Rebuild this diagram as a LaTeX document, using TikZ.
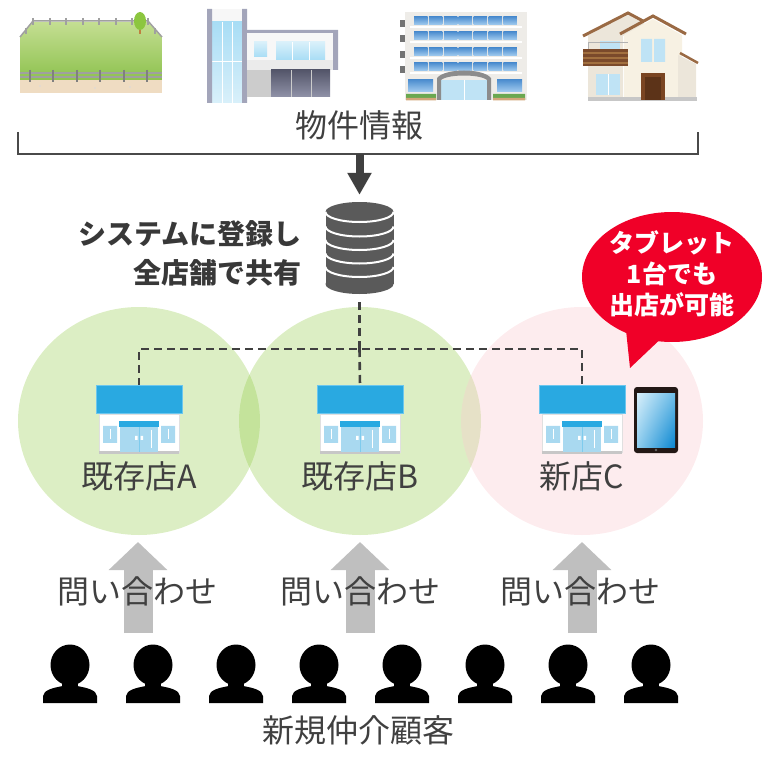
\documentclass[tikz,border=0pt]{standalone}
\usepackage{fontspec}
\setmainfont{Noto Sans CJK JP}
\usetikzlibrary{arrows.meta,shapes.geometric,shadings}

\definecolor{txtgray}{HTML}{404040}
\definecolor{boldgray}{HTML}{383838}
\definecolor{bracketgray}{HTML}{4A4A4A}
\definecolor{darkarrow}{HTML}{404040}
\definecolor{dbgray}{HTML}{5A5A5A}
\definecolor{lightarrow}{HTML}{BFBFBF}
\definecolor{zonegreen}{RGB}{140,200,60}
\definecolor{zonepink}{RGB}{250,200,205}
\definecolor{bubblered}{RGB}{240,0,40}
\definecolor{roofblue}{HTML}{29A9E1}
\definecolor{roofedge}{HTML}{6CC6EE}
\definecolor{paleblue}{HTML}{A9D9F0}
\definecolor{grasstop}{HTML}{C4DE92}
\definecolor{grassbot}{HTML}{8EC24F}
\definecolor{sand}{HTML}{EFDCC2}
\definecolor{fencegray}{HTML}{A0A0A0}
\definecolor{treegreen}{HTML}{8CC63F}
\definecolor{framegray}{HTML}{A3A5BA}
\definecolor{glasstop}{HTML}{A8DDF5}
\definecolor{glassbot}{HTML}{D9F0FA}
\definecolor{slatetop}{HTML}{54566A}
\definecolor{slatebot}{HTML}{9092A8}
\definecolor{aptwall}{HTML}{EEECE8}
\definecolor{aptblue}{HTML}{4F8FD0}
\definecolor{aptblue2}{HTML}{A4CDF0}
\definecolor{plantgreen}{HTML}{6AA84F}
\definecolor{housewall}{HTML}{F7F1E3}
\definecolor{housewall2}{HTML}{ECE6DA}
\definecolor{roofbrown}{HTML}{9A6A44}
\definecolor{wooddark}{HTML}{7B4A2B}
\definecolor{woodlight}{HTML}{A2703F}
\definecolor{doorbrown}{HTML}{7A4522}
\definecolor{doordark}{HTML}{5C3318}
\definecolor{houseglass}{HTML}{BFE3F5}
\definecolor{tabletframe}{HTML}{231815}
\definecolor{screenA}{HTML}{D8EFFA}
\definecolor{screenB}{HTML}{6EBDE8}
\definecolor{screenC}{HTML}{8FCDEE}
\definecolor{screenD}{HTML}{0A86D0}

\tikzset{
  lbl/.style={inner sep=0pt, text=txtgray, font=\fontsize{32}{36}\selectfont},
  boldlbl/.style={inner sep=0pt, text=boldgray, font=\bfseries\fontsize{28}{34}\selectfont},
  bubbletext/.style={inner sep=0pt, text=white, align=center, font=\bfseries\fontsize{25}{31}\selectfont},
  greenzone/.style={ellipse, inner sep=0pt, minimum width=242pt, minimum height=228pt,
    fill=zonegreen, fill opacity=0.3},
  pinkzone/.style={ellipse, inner sep=0pt, minimum width=242pt, minimum height=228pt,
    fill=zonepink, fill opacity=0.35},
  bracketline/.style={draw=bracketgray, line width=2.5pt},
  linkline/.style={draw=darkarrow, line width=2.6pt, dash pattern=on 8pt off 5pt},
  feedarrow/.style={draw=darkarrow, line width=8pt, -{Triangle[width=23pt,length=22pt]}},
  askarrow/.style={draw=lightarrow, line width=29pt, -{Triangle[width=57pt,length=28pt]}},
  shopbox/.style={inner sep=0pt, minimum width=86pt, minimum height=68pt},
  dbbox/.style={inner sep=0pt, minimum width=69pt, minimum height=92pt},
  % shop icon, origin at the top centre of the roof
  shop/.pic={
    \fill[white, draw=black!12, line width=0.6pt] (-40,28) rectangle (40,66);
    \fill[black!22] (-40,65) rectangle (40,68.5);
    \fill[roofblue, draw=roofedge, line width=0.8pt] (-43,0) rectangle (43,28);
    \fill[paleblue] (-19,35) rectangle (19,66);
    \fill[roofblue] (-20,35) rectangle (20,41);
    \draw[roofblue!60, line width=0.8pt] (0,41) -- (0,66);
    \fill[white] (-4,50) rectangle (-1.5,54) (1.5,50) rectangle (4,54);
    \fill[paleblue] (-36,40) rectangle (-22,57) (22,40) rectangle (36,57);
    \draw[white, line width=1pt] (-29,43) -- (-29,53) (29,43) -- (29,53) (12,44) -- (12,62);
  },
  % customer silhouette, origin at the bottom centre
  person/.pic={
    \fill[black] (0,-38) ellipse [x radius=19.5, y radius=20.5];
    \fill[black] (-8,-24) rectangle (8,-14);
    \fill[black] (-27,0) -- (-27,-7) .. controls (-26,-13) and (-18,-15) .. (-7,-17)
      -- (7,-17) .. controls (18,-15) and (26,-13) .. (27,-7) -- (27,0) -- cycle;
  },
}

\begin{document}
\begin{tikzpicture}[x=1pt,y=-1pt]
\useasboundingbox (0,0) rectangle (782,757);

% ---------- property illustrations ----------
% plot of land
\shade[top color=grasstop, bottom color=grassbot]
  (33,22) -- (148,22) -- (162,37) -- (162,80) -- (20,80) -- (20,37) -- cycle;
\fill[sand] (20,80) rectangle (162,93);
\fill[black!15] (40,86) circle (0.8) (95,88) circle (0.8) (130,87) circle (0.8);
\draw[fencegray, line width=1.5pt] (33,21) -- (148,21) (33,21) -- (20,37) (148,21) -- (162,37);
\foreach \px in {33,50,66,83,99,116,132,148} \draw[fencegray, line width=1.5pt] (\px,18) -- (\px,25);
\draw[fencegray, line width=1.5pt] (26,28) -- (26,34) (155,28) -- (155,34);
\draw[fencegray, line width=1.5pt] (20,73) -- (162,73) (20,77) -- (162,77);
\foreach \px in {30,53,77,100,124,147} \draw[fencegray!80!black, line width=2pt] (\px,70) -- (\px,82);
\draw[brown, line width=1.5pt] (140,27) -- (140,34);
\fill[treegreen] (140,21) ellipse [x radius=6, y radius=9];

% modern building
\fill[black!3] (212,9) rectangle (242,22);
\shade[top color=glasstop, bottom color=glassbot] (212,22) rectangle (242,103);
\draw[white, line width=0.6pt] (222,22) -- (222,103) (232,22) -- (232,103) (212,61) -- (242,61);
\fill[framegray] (207,9) rectangle (212,103) (242,9) rectangle (247,103);
\fill[black!3] (247,30) rectangle (338,70);
\fill[framegray] (247,30) rectangle (338,33) (333,30) rectangle (338,70);
\shade[top color=glassbot, bottom color=glasstop] (254,42) rectangle (267,57);
\shade[top color=glassbot, bottom color=glasstop] (276,42) rectangle (325,60);
\draw[white, line width=0.6pt] (292,42) -- (292,60) (309,42) -- (309,60);
\fill[black!8] (247,60) rectangle (333,70);
\fill[black!20] (247,70) rectangle (271,97);
\shade[top color=slatetop, bottom color=slatebot] (271,70) rectangle (330,97);
\draw[white!80!black, line width=0.6pt] (291,70) -- (291,97) (311,70) -- (311,97);

% apartment block
\fill[aptwall] (405,12) rectangle (527,100);
\foreach \ry in {17,32,48,63} {
  \fill[black!55] (400,\ry+3) rectangle (405,\ry+10);
  \fill[white] (410,\ry+9) rectangle (522,\ry+11.5);
  \foreach \i in {0,...,6}
    \shade[top color=aptblue, bottom color=aptblue2] (414+\i*14.9,\ry) rectangle ++(13.5,8);
}
\shade[top color=aptblue, bottom color=aptblue2] (408,80) rectangle (433,92);
\shade[top color=aptblue, bottom color=aptblue2] (497,80) rectangle (522,92);
\fill[houseglass] (441,80) rectangle (487,100);
\draw[white, line width=0.8pt] (464,80) -- (464,100);
\fill[black!45] (437,100) -- (437,78) .. controls (445,68) and (483,68) .. (491,78) -- (491,100)
  -- (487,100) -- (487,80) .. controls (480,74) and (448,74) .. (441,80) -- (441,100) -- cycle;
\fill[plantgreen] (406,94) rectangle (436,100) (493,94) rectangle (525,100);
\fill[brown!70] (406,98) rectangle (436,100.5) (493,98) rectangle (525,100.5);

% detached house
\fill[housewall2] (588,35) -- (628,15) -- (645,24) -- (623,36) -- (623,100) -- (588,100) -- cycle;
\fill[housewall] (624,35) -- (653,19) -- (682,35) -- (682,100) -- (624,100) -- cycle;
\fill[housewall2] (678,55) -- (696,64) -- (696,100) -- (678,100) -- cycle;
\draw[roofbrown, line width=3pt] (583,36) -- (628,13) -- (643,21);
\draw[roofbrown, line width=3pt] (620,34) -- (653,16) -- (686,34);
\draw[roofbrown, line width=2.5pt] (680,53) -- (698,63);
\fill[houseglass] (600,41) rectangle (620,49);
\draw[black!30, line width=0.8pt] (588,42) -- (628,42) (588,42) -- (588,49);
\fill[wooddark] (583,49) rectangle (628,66);
\draw[woodlight, line width=1.5pt] (583,53) -- (628,53) (583,58) -- (628,58) (583,63) -- (628,63);
\fill[houseglass] (641,39) rectangle (652,62) (654,39) rectangle (665,62);
\fill[houseglass] (596,74) rectangle (620,95);
\draw[white, line width=0.8pt] (608,74) -- (608,95);
\fill[black!22] (588,97) rectangle (697,101);
\fill[doorbrown] (641,73) rectangle (665,100);
\fill[doordark] (645,77) rectangle (661,100);

% ---------- property information ----------
\node[lbl] (props) at (359,125) {物件情報};
\coordinate (brL) at (18,132);
\coordinate (brR) at (698,132);
\coordinate (brMid) at (359.5,154);
\draw[bracketline] (brL) |- (brMid) -| (brR);

% ---------- shared system ----------
\node[dbbox] (db) at (359.5,248) {};
\fill[dbgray] (325.5,212) rectangle (393.5,284);
\fill[dbgray] (359.5,284) ellipse [x radius=34, y radius=10];
\fill[dbgray] (359.5,212) ellipse [x radius=34, y radius=10];
\foreach \yc in {212,226.5,240,253.5,267}
  \draw[white, line width=2pt] (325.5,\yc) arc[start angle=180, end angle=0, x radius=34, y radius=10];
\draw[feedarrow, shorten >=7pt] (brMid) -- (db.north);

\node[boldlbl, anchor=east] (sys1) at (302,234) {システムに登録し};
\node[boldlbl, anchor=east] (sys2) at (302,273) {全店舗で共有};

% ---------- store areas ----------
\node[greenzone] (zoneA) at (139,421) {};
\node[greenzone] (zoneB) at (360,421) {};
\node[pinkzone] (zoneC) at (582,421) {};

\node[shopbox] (shopA) at (139,420) {};
\node[shopbox] (shopB) at (360,420) {};
\node[shopbox] (shopC) at (582,420) {};

\coordinate (hub) at (359.5,349);
\draw[linkline, shorten <=8pt] (db.south) -- (hub);
\draw[linkline] (shopA.north) |- (hub) -| (shopC.north);
\draw[linkline] (hub) -- (shopB.north);

\pic at (shopA.north) {shop};
\pic at (shopB.north) {shop};
\pic at (shopC.north) {shop};

% tablet
\fill[tabletframe, rounded corners=3pt] (634,387) rectangle (678,453);
\shade[upper left=screenA, upper right=screenB, lower left=screenC, lower right=screenD]
  (637,393) rectangle (675,447);
\fill[black!60] (656,450) circle (1.3);

\node[lbl] (nameA) at (139,476) {既存店A};
\node[lbl] (nameB) at (360,476) {既存店B};
\node[lbl] (nameC) at (582,476) {新店C};

% speech bubble
\node[ellipse, fill=bubblered, inner sep=0pt, minimum width=180pt, minimum height=130pt] (bubble) at (672,277) {};
\fill[bubblered] (626,330) -- (630,368) -- (668,332) -- cycle;
\node[bubbletext] (bubbletxt) at (672,274) {タブレット\\1台でも\\出店が可能};

% ---------- enquiries ----------
\coordinate (baseA) at (138,633);
\coordinate (baseB) at (360,633);
\coordinate (baseC) at (582,633);
\coordinate (tipA) at (138,542);
\coordinate (tipB) at (360,542);
\coordinate (tipC) at (582,542);
\draw[askarrow] (baseA) -- (tipA);
\draw[askarrow] (baseB) -- (tipB);
\draw[askarrow] (baseC) -- (tipC);
\node[lbl] (askA) at (137,591) {問い合わせ};
\node[lbl] (askB) at (360,591) {問い合わせ};
\node[lbl] (askC) at (580,591) {問い合わせ};

% ---------- customers ----------
\foreach \i in {0,...,7}
  \pic at (70+83*\i,703) {person};
\node[lbl] (customers) at (358,730) {新規仲介顧客};

\end{tikzpicture}
\end{document}
